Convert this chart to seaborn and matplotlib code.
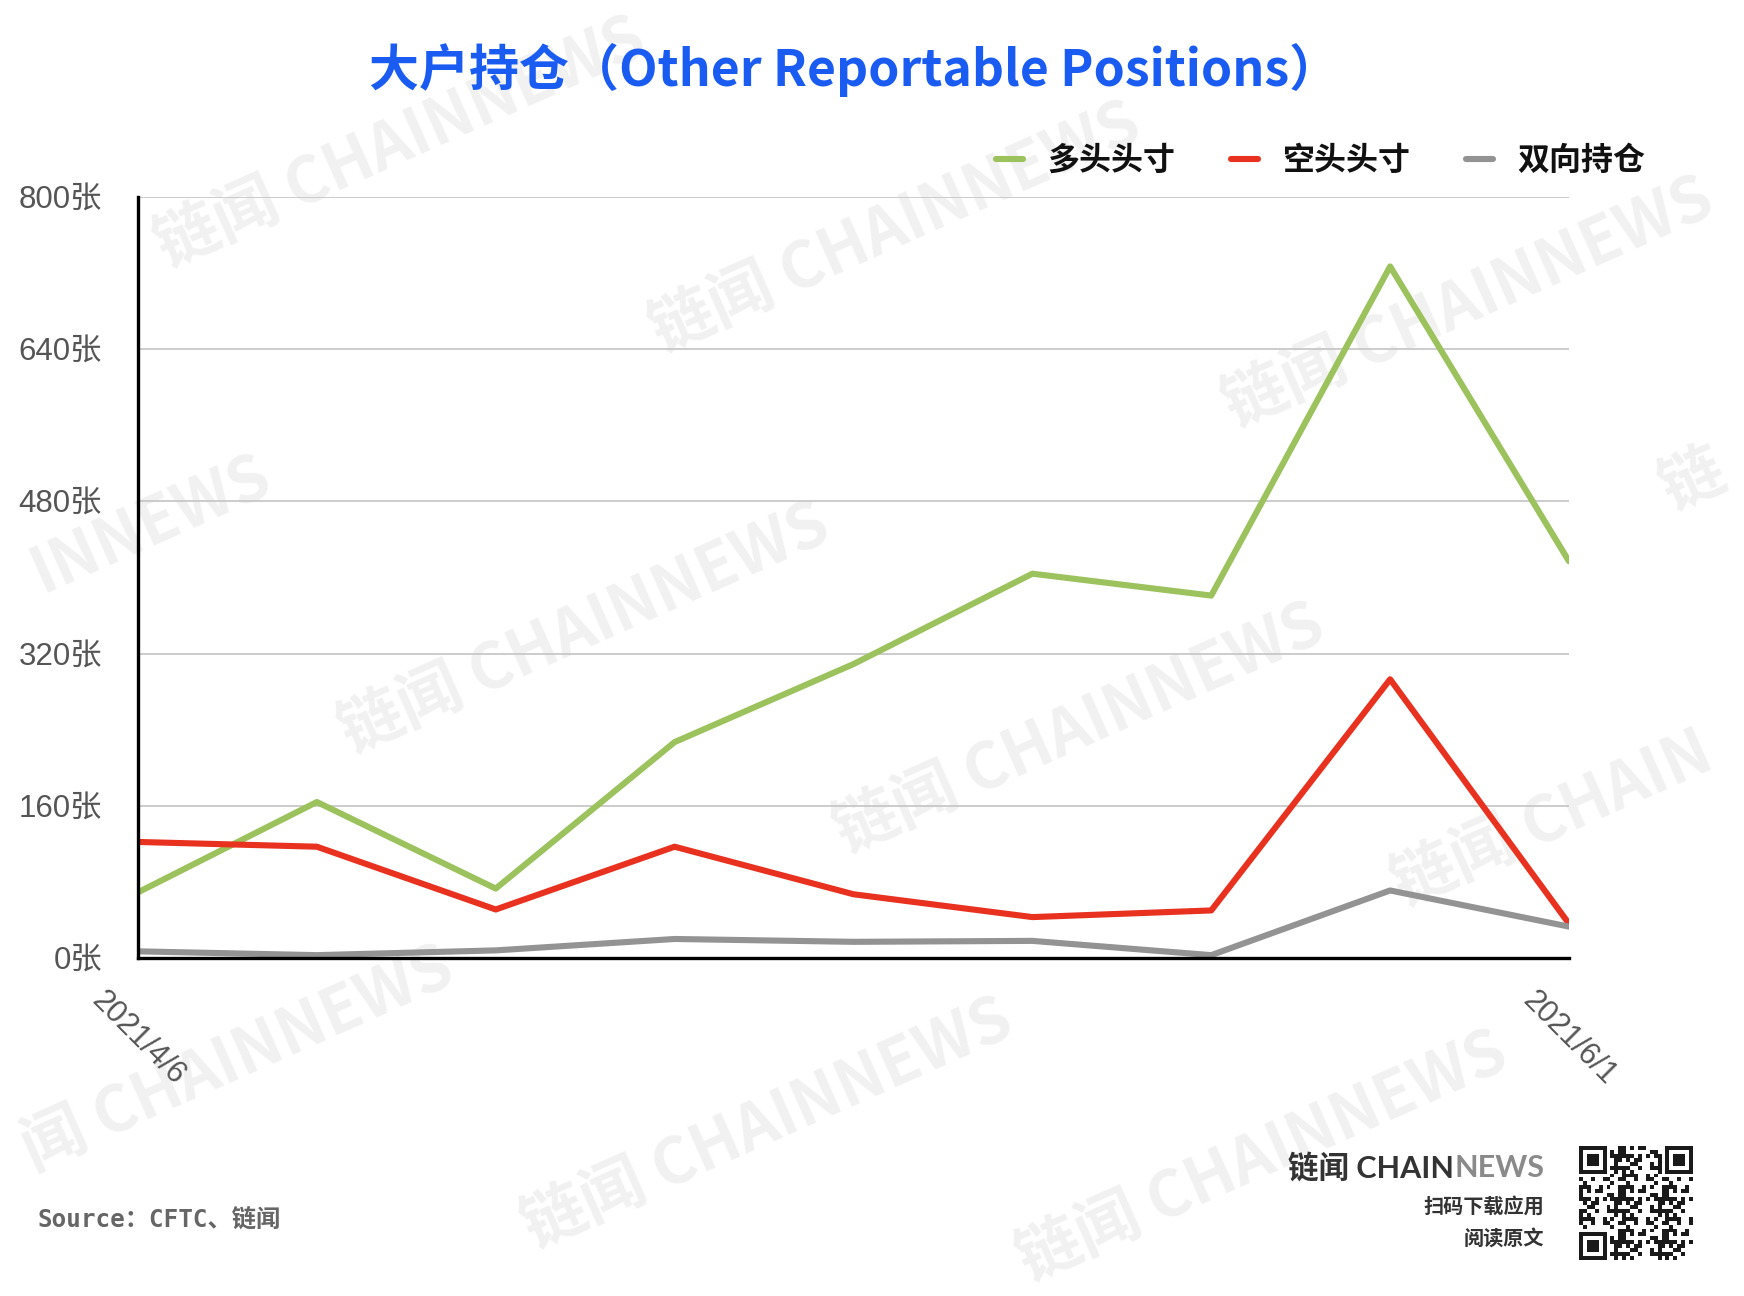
"""Large trader positions (Other Reportable Positions), CFTC weekly data."""

import numpy as np
import pandas as pd

import matplotlib
matplotlib.use("Agg")
import matplotlib.pyplot as plt
import seaborn as sns

# Data
dates = ["2021-04-06", "2021-04-13", "2021-04-20", "2021-04-27", "2021-05-04",
         "2021-05-11", "2021-05-18", "2021-05-25", "2021-06-01"]
long_pos = [69, 164, 73, 227, 309, 404, 381, 727, 417]
short_pos = [122, 117, 51, 117, 67, 43, 50, 293, 36]
spread_pos = [7, 3, 8, 20, 17, 18, 3, 71, 33]

series_names = ["多头头寸", "空头头寸", "双向持仓"]
series_colors = ["#9bc25c", "#e8311f", "#939393"]
y_ticks = [0, 160, 320, 480, 640, 800]
x_tick_labels = ["2021/4/6", "2021/6/1"]

title = "大户持仓（Other Reportable Positions）"
source = "Source：CFTC、链闻"

df = pd.DataFrame({
    "date": pd.to_datetime(dates * 3),
    "value": long_pos + short_pos + spread_pos,
    "series": np.repeat(series_names, len(dates)),
})

sns.set_theme(style="white")
plt.rcParams["font.family"] = ["Liberation Sans", "Noto Sans CJK SC", "DejaVu Sans"]
CJK = ["Noto Sans CJK SC", "DejaVu Sans"]

W, H = 1744, 1296
S = W / 1568
fig = plt.figure(figsize=(W / 100, H / 100), dpi=100)
fig.patch.set_facecolor("white")

# faint watermarks behind the axes: (text, x, y, anchor)
marks = [
    ("链闻 CHAINNEWS", 360, 128, "center"),
    ("链闻 CHAINNEWS", 805, 205, "center"),
    ("链闻 CHAINNEWS", 1320, 272, "center"),
    ("INNEWS", 240, 425, "right"),
    ("链闻 CHAINNEWS", 525, 565, "center"),
    ("链闻 CHAINNEWS", 970, 655, "center"),
    ("链闻 CHAIN", 1255, 800, "left"),
    ("闻 CHAINNEWS", 405, 868, "right"),
    ("链闻 CHAINNEWS", 690, 1010, "center"),
    ("链闻 CHAINNEWS", 1135, 1040, "center"),
    ("链", 1522, 432, "center"),
]
for txt, mx, my, anchor in marks:
    fig.text(mx * S / W, 1 - my * S / H, txt,
             family=CJK, weight="bold", fontsize=46, color="#f1f1f1",
             rotation=24, rotation_mode="anchor", ha=anchor, va="center",
             zorder=-1)

ax = fig.add_axes([138 / W, 1 - 958 / H, (1569 - 138) / W, (958 - 197) / H])
ax.patch.set_alpha(0)

sns.lineplot(data=df, x="date", y="value", hue="series",
             palette=dict(zip(series_names, series_colors)),
             linewidth=4.4, ax=ax, legend=False)

start, end = pd.to_datetime(dates[0]), pd.to_datetime(dates[-1])
ax.set_xlim(start, end)
ax.set_ylim(0, 800)
ax.set_yticks(y_ticks)
ax.set_yticklabels([f"{v}张" for v in y_ticks])
ax.set_xticks([start, end])
ax.set_xticklabels(x_tick_labels, rotation=-45, ha="center", va="top")
ax.set_xlabel("")
ax.set_ylabel("")
ax.tick_params(axis="y", length=0, pad=26, labelsize=22.5, labelcolor="#555555")
ax.tick_params(axis="x", length=0, pad=20, labelsize=22, labelcolor="#555555")

ax.grid(axis="y", color="#c8c8c8", linewidth=1.3)
ax.grid(axis="x", visible=False)
for side in ["top", "right"]:
    ax.spines[side].set_visible(False)
for side in ["left", "bottom"]:
    ax.spines[side].set_color("black")
    ax.spines[side].set_linewidth(2.4)
    ax.spines[side].set_zorder(5)

# legend
handles = [plt.Line2D([], [], color=c, linewidth=4.4) for c in series_colors]
leg = fig.legend(handles, series_names, loc="center right",
                 bbox_to_anchor=(1674 / W, 1 - 161 / H), ncol=3, frameon=False,
                 handlelength=0.85, handletextpad=0.75, columnspacing=1.75,
                 prop={"family": CJK, "weight": "bold", "size": 23})
for t in leg.get_texts():
    t.set_color("#111111")

fig.text(854 / W, 1 - 70 / H, title, family=CJK, weight="bold",
         fontsize=36, color="#1a5cf2", ha="center", va="center")

fig.text(37 / W, 1 - 1220 / H, source,
         family=["DejaVu Sans Mono", "Noto Sans CJK SC"], weight="bold",
         fontsize=17.5, color="#666666", ha="left", va="center")

# logo block, bottom right
logo_font = dict(family=["Lato"] + CJK, weight="bold", fontsize=22)
news = fig.text(1544 / W, 1 - 1168 / H, "NEWS", color="#8a8a8a",
                ha="right", va="center", **logo_font)
ax.annotate("链闻 CHAIN", xy=(0, 0.5), xycoords=news, ha="right",
            va="center", color="#333333", annotation_clip=False, **logo_font)
fig.text(1544 / W, 1 - 1206 / H, "扫码下载应用", family=CJK, weight="bold",
         fontsize=14.5, color="#333333", ha="right", va="center")
fig.text(1544 / W, 1 - 1238 / H, "阅读原文", family=CJK, weight="bold",
         fontsize=14.5, color="#333333", ha="right", va="center")

# QR-like decoration
n = 29
ii, jj = np.meshgrid(np.arange(n), np.arange(n), indexing="ij")
qr = (((ii * ii * 3 + jj * jj * 5 + ii * jj * 7 + ii + 2 * jj) % 11) < 5).astype(float)
finder = np.zeros((7, 7))
finder[0, :] = finder[-1, :] = finder[:, 0] = finder[:, -1] = 1
finder[2:5, 2:5] = 1
for r0, c0 in [(0, 0), (0, n - 7), (n - 7, 0)]:
    qr[max(r0 - 1, 0):r0 + 8, max(c0 - 1, 0):c0 + 8] = 0
    qr[r0:r0 + 7, c0:c0 + 7] = finder
qax = fig.add_axes([1579 / W, 1 - 1260 / H, 114 / W, 114 / H])
qax.imshow(qr, cmap="Greys", interpolation="nearest", vmin=0, vmax=1.1)
qax.axis("off")

fig.savefig("out.png", dpi=100, facecolor="white")
